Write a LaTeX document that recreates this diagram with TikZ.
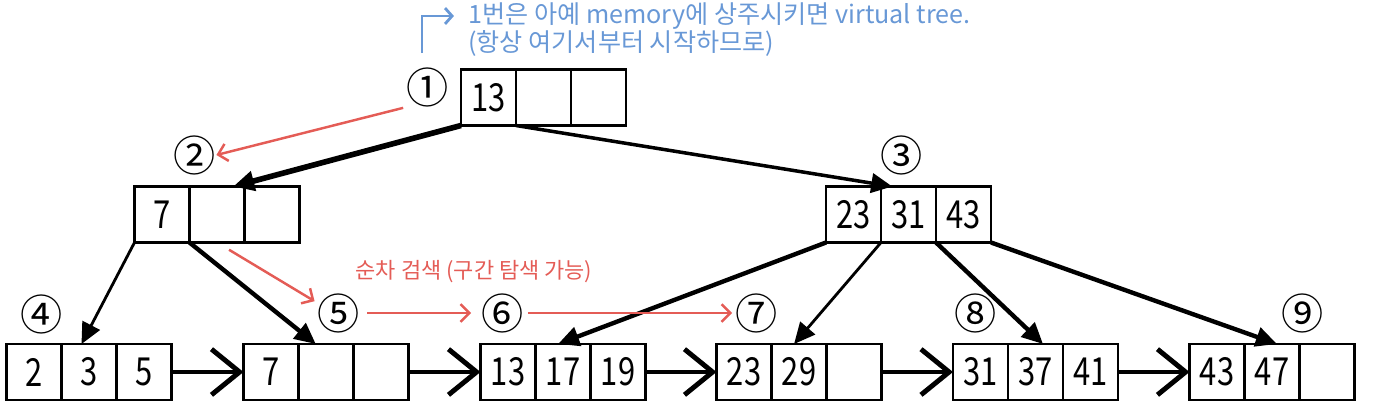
\documentclass[tikz,border=0pt]{standalone}
\usepackage{fontspec}
\newfontfamily\krfont{Noto Sans CJK KR}
\newfontfamily\keyfont[FakeStretch=0.8]{Noto Sans CJK KR}
\usepackage{xcolor}
\usepackage{tikz}
\usetikzlibrary{arrows.meta, positioning, calc}
\definecolor{penred}{RGB}{228,92,86}
\definecolor{penblue}{RGB}{104,152,214}
% one B+ tree node = three key cells in a row
\newcommand{\keyrow}[6]{%
  \node[cell] (#1-1) at (#2,#3) {#4};
  \node[cell, right=0pt of #1-1] (#1-2) {#5};
  \node[cell, right=0pt of #1-2] (#1-3) {#6};
}

\begin{document}
\begin{tikzpicture}[
  cell/.style={draw, line width=1.3pt, minimum width=1.1cm, minimum height=1.12cm,
               inner sep=0pt, outer sep=0pt, font=\keyfont\fontsize{22}{22}\selectfont},
  ordinal/.style={inner sep=0pt, font=\krfont\fontsize{24}{24}\selectfont},
  treelink/.style={line width=1.6pt, -{Triangle[length=12pt, width=11pt]}},
  heavylink/.style={treelink, line width=2.5pt},
  leaflink/.style={line width=2.8pt, -{Straight Barb[length=16pt, width=26pt]}},
  redpen/.style={penred, line width=1.4pt, -{Straight Barb[length=5pt, width=10pt]}},
  bluepen/.style={penblue, line width=1.6pt, -{Straight Barb[length=4pt, width=9pt]}}
]
\useasboundingbox (0,0) rectangle (27.72,-8.14);

% internal nodes
\keyrow{root}{9.77}{-1.95}{13}{}{}
\keyrow{inleft}{3.24}{-4.29}{7}{}{}
\keyrow{inright}{17.07}{-4.29}{23}{31}{43}

% leaves
\keyrow{leaf1}{0.68}{-7.44}{2}{3}{5}
\keyrow{leaf2}{5.42}{-7.44}{7}{}{}
\keyrow{leaf3}{10.16}{-7.44}{13}{17}{19}
\keyrow{leaf4}{14.88}{-7.44}{23}{29}{}
\keyrow{leaf5}{19.61}{-7.44}{31}{37}{41}
\keyrow{leaf6}{24.34}{-7.44}{43}{47}{}

% visiting order
\node[ordinal] (c1) at (8.56,-1.74) {①};
\node[ordinal] (c2) at (3.90,-3.10) {②};
\node[ordinal] (c3) at (18.04,-3.10) {③};
\node[ordinal] (c4) at (0.84,-6.28) {④};
\node[ordinal] (c5) at (6.78,-6.26) {⑤};
\node[ordinal] (c6) at (10.06,-6.26) {⑥};
\node[ordinal] (c7) at (15.14,-6.26) {⑦};
\node[ordinal] (c8) at (19.52,-6.26) {⑧};
\node[ordinal] (c9) at (26.06,-6.26) {⑨};

% child pointers
\draw[heavylink, line width=3.2pt] (root-1.south west) -- (inleft-2.60);
\draw[treelink, line width=2pt] (root-1.south east) -- (inright-2.120);
\draw[treelink] (inleft-1.south west) -- (leaf1-2.105);
\draw[heavylink] (inleft-1.south east) -- (leaf2-2.110);
\draw[heavylink] (inright-1.south west) -- (leaf3-2.100);
\draw[treelink] (inright-1.south east) -- (leaf4-2.100);
\draw[heavylink] (inright-2.south east) -- (leaf5-2.75);
\draw[heavylink] (inright-3.south east) -- (leaf6-2.80);

% leaf chain
\foreach \a/\b in {1/2, 2/3, 3/4, 4/5, 5/6}
  \draw[leaflink] (leaf\a-3.east) -- (leaf\b-1.west);

% red notes
\draw[redpen, shorten <=2pt] (c1.south west) -- (c2.east);
\draw[redpen, shorten <=8pt, shorten >=2pt] (inleft-2.south) -- (c5.155);
\draw[redpen, shorten <=4pt, shorten >=6pt] (c5.east) -- (c6.west);
\draw[redpen, shorten <=2pt, shorten >=2pt] (c6.east) -- (c7.west);
\node[text=penred, font=\krfont\fontsize{12.5}{14}\selectfont] (seqnote) at (9.48,-5.44)
  {순차 검색 (구간 탐색 가능)};

% blue note
\node[anchor=west, inner sep=0pt, text=penblue, font=\krfont\fontsize{14.3}{17}\selectfont]
  (noteA) at (9.36,-0.32) {1번은 아예 memory에 상주시키면 virtual tree.};
\node[anchor=west, inner sep=0pt, text=penblue, font=\krfont\fontsize{14.3}{17}\selectfont]
  (noteB) at (9.36,-0.87) {(항상 여기서부터 시작하므로)};
\coordinate (hookfoot) at (8.44,-1.06);
\draw[bluepen, shorten >=8pt] (hookfoot) |- (noteA.west);
\end{tikzpicture}
\end{document}
